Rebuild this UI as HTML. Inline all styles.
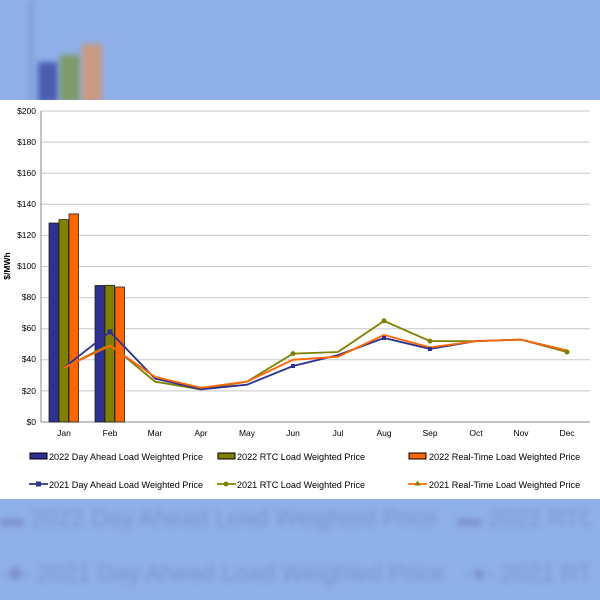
<!DOCTYPE html><html><head><style>
html,body{margin:0;width:600px;height:600px;overflow:hidden}
body{background:#8fb0e8;font-family:"Liberation Sans",sans-serif;position:relative}
.wrap{position:absolute;left:0;top:0;width:600px;height:600px;overflow:hidden}
.bl{position:absolute;filter:blur(3px)}
</style></head><body><div class="wrap">
<div class="bl" style="left:38px;top:62px;width:20px;height:40px;background:#4a5cb0"></div>
<div class="bl" style="left:60px;top:55px;width:20px;height:47px;background:#7c9a6a"></div>
<div class="bl" style="left:82px;top:44px;width:20px;height:58px;background:#c99a80"></div>
<div class="bl" style="left:30px;top:0;width:2px;height:100px;background:#6a86c0"></div>
<div class="bl" style="left:0;top:505px;width:590px;overflow:hidden;font-size:24px;color:#7d92cc;white-space:nowrap">▬ 2022 Day Ahead Load Weighted Price &nbsp; ▬ 2022 RTC Load Weighted Price</div>
<div class="bl" style="left:0;top:560px;width:590px;overflow:hidden;font-size:24px;color:#7d92cc;white-space:nowrap">-■- 2021 Day Ahead Load Weighted Price &nbsp; -●- 2021 RTC Load Weighted Price</div>
<svg style="position:absolute;left:0;top:100px" width="600" height="399" viewBox="0 100 600 399">
<rect x="0" y="100" width="600" height="399" fill="#fff"/>
<g font-size="8.5" fill="#000" text-anchor="end">
<g stroke="#c8c8c8">
<line x1="41" x2="590" y1="111" y2="111"/><line x1="41" x2="590" y1="142.1" y2="142.1"/><line x1="41" x2="590" y1="173.2" y2="173.2"/><line x1="41" x2="590" y1="204.3" y2="204.3"/><line x1="41" x2="590" y1="235.4" y2="235.4"/><line x1="41" x2="590" y1="266.5" y2="266.5"/><line x1="41" x2="590" y1="297.6" y2="297.6"/><line x1="41" x2="590" y1="328.7" y2="328.7"/><line x1="41" x2="590" y1="359.8" y2="359.8"/><line x1="41" x2="590" y1="390.9" y2="390.9"/>
</g>
<text x="36" y="114">$200</text><text x="36" y="145">$180</text><text x="36" y="176">$160</text><text x="36" y="207">$140</text><text x="36" y="238">$120</text><text x="36" y="269">$100</text><text x="36" y="300">$80</text><text x="36" y="331">$60</text><text x="36" y="362">$40</text><text x="36" y="394">$20</text><text x="36" y="425">$0</text>
</g>
<line x1="41" x2="41" y1="111" y2="422" stroke="#888"/>
<line x1="41" x2="590" y1="422" y2="422" stroke="#888"/>
<text transform="translate(10,266) rotate(-90)" font-size="8.5" font-weight="bold" text-anchor="middle">$/MWh</text>
<g stroke="#222" stroke-width="0.8">
<rect x="49" y="223" width="9.5" height="199" fill="#2e3192"/>
<rect x="59" y="219.6" width="9.5" height="202.4" fill="#808000"/>
<rect x="69" y="213.9" width="9.5" height="208.1" fill="#ff6600"/>
<rect x="95" y="285.5" width="9.5" height="136.5" fill="#2e3192"/>
<rect x="105" y="285.3" width="9.5" height="136.7" fill="#808000"/>
<rect x="115" y="287" width="9.5" height="135" fill="#ff6600"/>
</g>
<g font-size="8.5" text-anchor="middle">
<text x="64" y="436">Jan</text><text x="110" y="436">Feb</text><text x="155" y="436">Mar</text><text x="201" y="436">Apr</text><text x="247" y="436">May</text><text x="293" y="436">Jun</text><text x="338" y="436">Jul</text><text x="384" y="436">Aug</text><text x="430" y="436">Sep</text><text x="476" y="436">Oct</text><text x="521" y="436">Nov</text><text x="567" y="436">Dec</text>
</g>
<polyline fill="none" stroke="#808000" stroke-width="1.8" points="64,367.6 110,344.3 155,381.6 201,389.4 247,381.6 293,353.6 338,352 384,320.9 430,341.1 476,341.1 521,339.6 567,352"/>
<polyline fill="none" stroke="#2e3192" stroke-width="1.8" points="64,367.6 110,331.8 155,378.5 201,389.4 247,384.7 293,366 338,355.1 384,338 430,348.9 476,341.1 521,339.6 567,350.5"/>
<polyline fill="none" stroke="#ff6600" stroke-width="1.8" points="64,367.6 110,345.8 155,376.9 201,387.8 247,381.6 293,359.8 338,356.7 384,334.9 430,347.4 476,341.1 521,339.6 567,350.5"/>
<g fill="#2e3192"><rect x="107.5" y="329.3" width="5" height="5"/><rect x="291" y="364" width="4" height="4"/><rect x="382" y="336" width="4" height="4"/><rect x="428" y="347" width="4" height="4"/></g>
<g fill="#808000"><circle cx="384" cy="320.9" r="2.5"/><circle cx="293" cy="353.6" r="2.5"/><circle cx="430" cy="341.1" r="2.5"/><circle cx="567" cy="352" r="2.5"/></g>
<g font-size="9.1">
<rect x="30" y="453" width="17" height="6" fill="#2e3192" stroke="#000"/><text x="49" y="460">2022 Day Ahead Load Weighted Price</text>
<rect x="218" y="453" width="17" height="6" fill="#808000" stroke="#000"/><text x="237" y="460">2022 RTC Load Weighted Price</text>
<rect x="409" y="453" width="17" height="6" fill="#ff6600" stroke="#000"/><text x="429" y="460">2022 Real-Time Load Weighted Price</text>
<line x1="29" x2="48" y1="484" y2="484" stroke="#2e3192" stroke-width="1.8"/><rect x="36" y="481.5" width="5" height="5" fill="#2e3192"/><text x="49" y="488">2021 Day Ahead Load Weighted Price</text>
<line x1="217" x2="236" y1="484" y2="484" stroke="#808000" stroke-width="1.8"/><circle cx="226" cy="484" r="2.5" fill="#808000"/><text x="237" y="488">2021 RTC Load Weighted Price</text>
<line x1="408" x2="427" y1="484" y2="484" stroke="#ff6600" stroke-width="1.8"/><polygon points="414.5,485.5 417.5,480.5 420.5,485.5" fill="#808000"/><text x="429" y="488">2021 Real-Time Load Weighted Price</text>
</g>
</svg>
</div></body></html>
